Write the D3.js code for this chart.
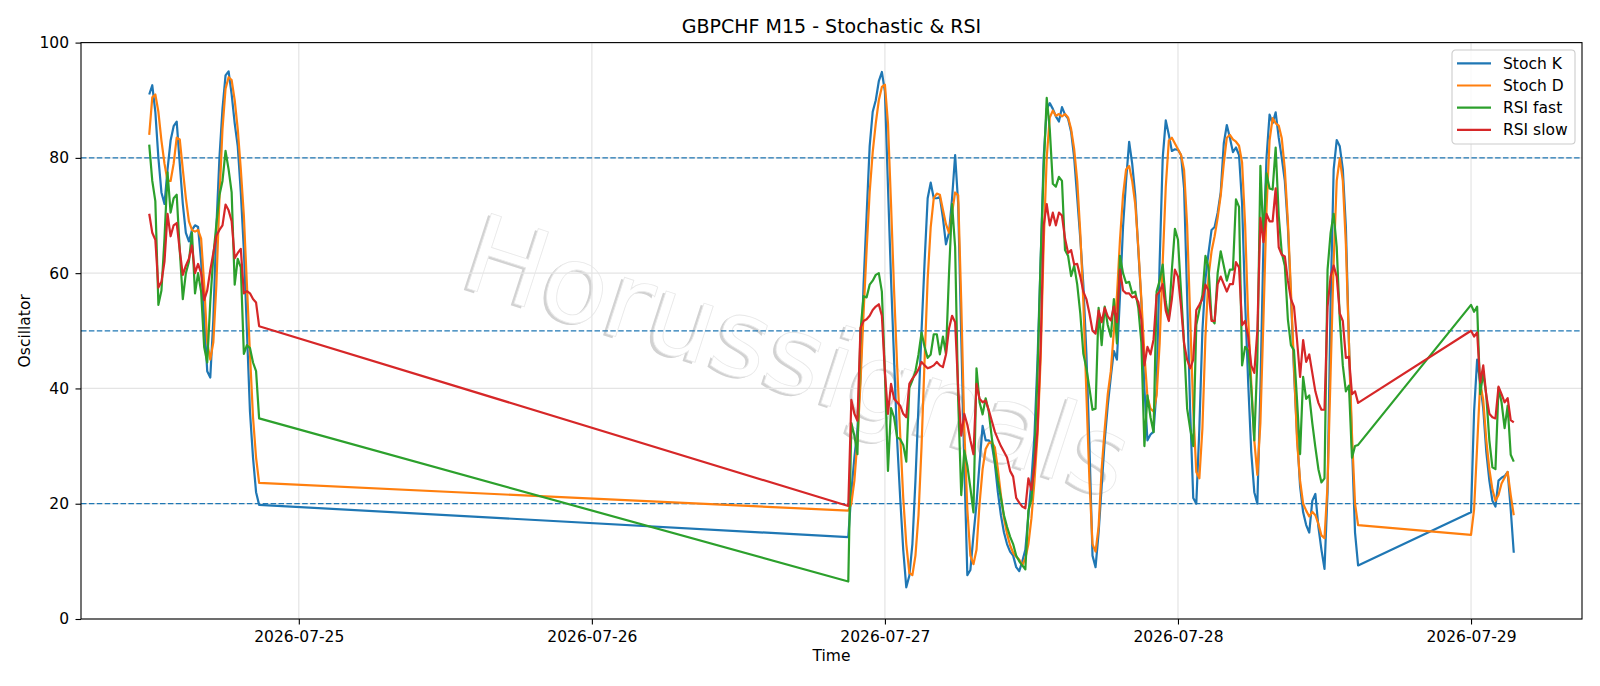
<!DOCTYPE html>
<html>
<head>
<meta charset="utf-8">
<script src="https://cdn.jsdelivr.net/npm/d3@7"></script>
<style>
    body { margin: 0; background: #fff; }
    text { font-family: "DejaVu Sans", sans-serif; fill: #000; }
</style>
</head>
<body>
<svg id="chart" width="1600" height="686"></svg>
<script>
// trading blocks (M15 bars, first and last bar of each block)
var sessions = [
    ["2026-07-24T11:45", "2026-07-24T20:45"],
    ["2026-07-26T21:00", "2026-07-28T14:45"],
    ["2026-07-29T00:00", "2026-07-29T03:30"]
];

var stochK = [
    // 07-24
    91.0, 92.6, 88, 80, 74, 72, 78, 83, 85.5, 86.3, 79, 72, 67, 65.5, 67.5, 68.3, 68, 62, 52, 43,
    41.9, 52, 68, 80, 88.5, 94.3, 95.0, 91, 86, 82, 74, 64, 50, 36, 28, 22, 19.8,
    // 07-26 .. 07-28
    14.2, 22, 28, 33, 42, 58, 70, 82, 88, 90, 93.3, 94.9, 91.5, 75, 59, 45, 31, 21, 12, 5.5,
    7.5, 13, 24, 37, 50, 62, 73, 75.7, 73, 73, 73.2,
    69.6, 65, 67, 73, 80.5, 72, 49, 27, 7.6, 8.5, 14.5, 20, 27, 33.5, 31, 31, 30.4, 27, 22, 18,
    15, 13, 11.7, 11, 9, 8.3, 10, 12, 18, 24, 32, 45, 62, 80, 88.5, 89.5,
    88.5, 87.2, 86.3, 88.8, 87.5, 86.8, 84.5, 80, 73, 66, 58, 46, 30, 11, 9, 15, 23, 31, 37, 42,
    46.5, 45, 56, 68, 76, 82.8, 79, 73.5, 64, 55,
    40, 31, 32, 32.5, 40, 62, 80, 86.5, 84, 81.2, 81.5, 81.4, 80.5, 74.7, 56, 36, 21, 20, 33, 50,
    59, 63.5, 67.5, 68, 70.5, 74, 82.5, 85.7, 83.5, 81, 81.8, 80.5,
    72, 55, 41, 29, 22, 20, 40, 65, 80, 87.5, 86, 87.9, 83.5, 80, 76, 68, 56, 43, 32, 23,
    18.5, 16.3, 15, 20.5, 21.7, 16, 12, 8.7, 22, 55, 78, 83.1, 82, 78, 68, 48, 30, 15, 9.3,
    // 07-29
    18.5, 36, 45, 41, 36.5, 29, 24, 20.5, 19.5, 24, 24.5, 24.8, 25.5, 19, 11.5
];

var stochD = [
    84, 90.5, 91, 88, 83, 79, 76, 76, 79, 83.5, 83.2, 78, 73, 69, 67.5, 67.2, 67.5, 66, 58, 48,
    45, 48, 58, 73, 85, 92, 94, 93.5, 90, 85, 78, 70, 58, 46, 35, 28, 23.6,

    18.8, 20, 24, 31, 41, 53, 64, 74, 81, 86, 90, 92.3, 92.7, 86, 72, 57, 44, 32, 21, 13,
    8, 7.6, 11, 18, 30, 45, 59, 68, 73, 73.8, 73.6,
    71, 68.5, 67, 70.5, 74, 73.5, 55, 33, 19, 11, 9.5, 12, 20, 26, 29.5, 30.5, 30.7, 29.8, 26, 21.5,
    17.5, 14.8, 12.8, 11.5, 10.8, 10.3, 9.3, 10.5, 13, 17.5, 24, 32, 45, 65, 80, 87,
    88.2, 87.3, 87.6, 87.2, 87.6, 87, 85, 81.5, 76, 67, 55, 39, 24, 13, 11.7, 16, 26, 33, 39, 43,
    50, 56, 65.8, 73.5, 78, 78.6, 76, 72, 64.5, 55.5,
    46, 38.5, 36.5, 36, 38.8, 47.8, 61.9, 75, 83, 83.5, 82.5, 81.5, 80.5, 77.9, 68.3, 52.3, 36.3, 25.5, 24.4, 33,
    49, 59.4, 63.8, 66.4, 69.6, 73.5, 79, 83.5, 84, 83.2, 82.8, 82.1,
    79.2, 68.3, 52.3, 41, 31, 25, 34, 52, 71, 83, 86.9, 86, 85.6, 83.4, 78, 69, 57, 44, 31, 24,
    20, 18.8, 17.8, 18.6, 18, 16.5, 14.5, 14, 23.3, 42.7, 61.9, 76, 79.9, 76, 65, 48, 32, 20, 16.3,

    14.6, 19, 30, 41, 38, 31, 26, 22.5, 20.5, 21.5, 23.5, 24.5, 25.5, 21.5, 18
];

var rsiFast = [
    82.3, 76, 72.5, 54.5, 57, 66, 77.5, 70.5, 73, 73.6, 64, 55.5, 60, 62, 67, 56.5, 60, 56.8, 47.2, 44.5,
    55, 63, 68.5, 73.5, 76, 81.2, 78, 74, 58, 62.5, 61, 46, 47.5, 47, 44.5, 43, 34.8,

    6.5, 34, 31.8, 28.6, 50, 56, 55.8, 58, 58.7, 59.7, 60, 56.8, 42.7, 25.7, 36.6, 35, 31.5, 31.2, 30.2, 27.3,
    40.1, 41.4, 43, 45.9, 49.7, 47.2, 45.3, 45.9, 49.4, 49.4, 45.9,
    49, 46, 60, 72, 64.5, 38, 21.5, 29.2, 26.6, 22.7, 18.5, 43.5, 37.6, 35.5, 38.3, 36, 31.5, 27.5, 24, 21,
    18, 16, 14.3, 13, 11, 10, 9.3, 8.6, 18.8, 20.8, 27.9, 42.7, 62, 78, 90.4, 85,
    75.5, 75, 76.7, 76, 64, 63, 59.5, 61.3, 58, 53, 46, 43.5, 40, 36.3, 36.5, 54, 47.5, 54.2, 51, 49,
    55.5, 47.8, 63, 60, 58.3, 58.5, 56.5, 56.8, 54, 48,
    30, 38.8, 35, 32.4, 56.8, 58.7, 61.5, 55, 52, 60.6, 67.7, 65.8, 56.8, 47.8, 36.5, 33, 30, 51, 53.6, 56.2,
    63, 61, 52, 51.3, 60, 63.8, 61.3, 58.7, 60.6, 60.6, 72.8, 71.5,
    44, 47.2, 46.6, 40, 31, 45, 78.6, 65.8, 77.3, 74.7, 74.5, 81.8, 70, 63.5, 61.3, 52, 47.5, 46.6, 38, 28.6,
    42, 38.2, 38.8, 34, 29.8, 26, 23.7, 24.4, 60.6, 67, 70.3, 64.5, 52, 44, 39.5, 40.5, 28, 30, 30.2,

    54.5, 53.3, 54.2, 39, 42.7, 38.8, 31, 26.3, 26, 40.1, 37.6, 33.1, 37, 28.5, 27.3
];

var rsiSlow = [
    70.3, 67, 65.8, 57.5, 58.5, 62, 70.3, 66.4, 68.3, 68.7, 64, 59.7, 61.3, 62.5, 64.8, 60, 61.6, 60, 55.3, 57,
    60.5, 63.5, 66.5, 67.5, 68.3, 71.9, 70.9, 69, 62.6, 63.5, 64.2, 56.5, 56.9, 56.5, 55.5, 54.9, 50.8,

    19.6, 38, 35.6, 34.4, 50.5, 51.7, 52, 52.6, 53.6, 54.2, 54.6, 52.6, 42.7, 35.6, 40.8, 38.2, 37.6, 37, 35.6, 35,
    40.8, 41.7, 42.4, 43.3, 44.6, 44, 43.5, 43.7, 44, 44.6, 44,
    43.7, 45.9, 50.4, 52.6, 51.5, 40, 31.8, 35.6, 33.7, 31, 28.6, 40.8, 38.2, 37.6, 37.9, 36.3, 34.4, 32.5, 31.2, 30,
    29, 28, 25.7, 24.7, 21, 20.2, 19.5, 19.2, 24.4, 22.4, 26.6, 33, 47, 68.3, 72, 68.3,
    70.5, 68.3, 70.5, 70, 66, 63.5, 64, 61.5, 61.6, 59.4, 56.8, 55.5, 53, 50, 49.5, 53.5, 51.5, 54, 52.5, 51.8,
    54.2, 51.5, 60.6, 57, 56.5, 56.5, 55.8, 56, 55, 52,
    44, 47.2, 45.9, 48.5, 56.2, 56.8, 58.1, 53.5, 51.7, 55.5, 60.6, 59.4, 54.2, 47.8, 45, 43.5, 45, 53.6, 54.5, 55.5,
    58, 57, 51.7, 51.7, 58.1, 59.4, 58.1, 56.8, 58.1, 58.1, 61.9, 61,
    51, 51.7, 49, 44, 42.7, 50, 69.6, 65.4, 70.3, 69, 69, 74.7, 64.5, 63.2, 62.9, 58.7, 55.5, 54.2, 48.4, 42,
    48.4, 44.6, 45.9, 42.7, 39.5, 37.5, 36.3, 36.3, 54.2, 59.4, 61.3, 59.4, 53, 51.7, 45.3, 45.5, 39, 39.5, 37.5,

    50, 49, 49.7, 41, 44, 38.8, 35.6, 35, 34.8, 40.3, 39, 37.6, 38.3, 34.5, 34.1
];

var seriesNames = ["Stoch K", "Stoch D", "RSI fast", "RSI slow"];
var seriesColors = ["#1f77b4", "#ff7f0e", "#2ca02c", "#d62728"];
var levels = [80, 50, 20];
var yTicks = [0, 20, 40, 60, 80, 100];
var xTickLabels = ["2026-07-25", "2026-07-26", "2026-07-27", "2026-07-28", "2026-07-29"];

var margin = { left: 81, right: 1582, top: 42.6, bottom: 619 };
var svg = d3.select("#chart");

var parseTime = d3.utcParse("%Y-%m-%dT%H:%M");
var parseDay = d3.utcParse("%Y-%m-%d");

var times = [];
sessions.forEach(function (s) {
    var end = parseTime(s[1]);
    times = times.concat(d3.utcMinute.every(15).range(parseTime(s[0]), d3.utcMinute.offset(end, 1)));
});

var allSeries = [stochK, stochD, rsiFast, rsiSlow].map(function (vals, i) {
    return {
        name: seriesNames[i],
        color: seriesColors[i],
        points: vals.map(function (v, k) { return { t: times[k], v: v }; })
    };
});

// matplotlib style 5% margins on x
var t0 = +times[0], t1 = +times[times.length - 1];
var pad = (t1 - t0) * 0.05;
var x = d3.scaleUtc()
    .domain([new Date(t0 - pad), new Date(t1 + pad)])
    .range([margin.left, margin.right]);
var y = d3.scaleLinear()
    .domain([0, 100])
    .range([margin.bottom, margin.top]);

// watermark
var wm = svg.append("g")
    .attr("transform", "translate(786,392) rotate(18)");
wm.append("text")
    .attr("x", -2.5).attr("y", 2.5)
    .attr("text-anchor", "middle")
    .style("font-size", "108px")
    .style("fill", "#d2d2d2")
    .text("Horussignals");
wm.append("text")
    .attr("text-anchor", "middle")
    .style("font-size", "108px")
    .style("fill", "#ffffff")
    .style("stroke", "#e8e8e8")
    .style("stroke-width", 0.8)
    .text("Horussignals");

// grid
var grid = svg.append("g").attr("class", "grid");
grid.selectAll("line.gy")
    .data(yTicks)
    .enter().append("line")
    .attr("x1", margin.left).attr("x2", margin.right)
    .attr("y1", function (d) { return y(d); })
    .attr("y2", function (d) { return y(d); })
    .style("stroke", "#e4e4e4")
    .style("stroke-width", 1.2);
grid.selectAll("line.gx")
    .data(xTickLabels)
    .enter().append("line")
    .attr("x1", function (d) { return x(parseDay(d)); })
    .attr("x2", function (d) { return x(parseDay(d)); })
    .attr("y1", margin.top).attr("y2", margin.bottom)
    .style("stroke", "#e4e4e4")
    .style("stroke-width", 1.2);

// overbought / mid / oversold levels
svg.append("g").selectAll("line")
    .data(levels)
    .enter().append("line")
    .attr("x1", margin.left).attr("x2", margin.right)
    .attr("y1", function (d) { return y(d); })
    .attr("y2", function (d) { return y(d); })
    .style("stroke", "#1f77b4")
    .style("stroke-width", 1.3)
    .style("stroke-dasharray", "5.5,2.4");

// series
var line = d3.line()
    .x(function (d) { return x(d.t); })
    .y(function (d) { return y(d.v); });

svg.append("g").selectAll("path")
    .data(allSeries)
    .enter().append("path")
    .attr("d", function (d) { return line(d.points); })
    .style("fill", "none")
    .style("stroke", function (d) { return d.color; })
    .style("stroke-width", 2.2)
    .style("stroke-linejoin", "round");

// axes
var xAxis = svg.append("g")
    .attr("transform", "translate(0," + margin.bottom + ")")
    .call(d3.axisBottom(x)
        .tickValues(xTickLabels.map(parseDay))
        .tickFormat(d3.utcFormat("%Y-%m-%d"))
        .tickSize(5.5)
        .tickPadding(6.2));
var yAxis = svg.append("g")
    .attr("transform", "translate(" + margin.left + ",0)")
    .call(d3.axisLeft(y)
        .tickValues(yTicks)
        .tickSize(5.5)
        .tickPadding(6.5));
[xAxis, yAxis].forEach(function (a) {
    a.select(".domain").remove();
    a.selectAll(".tick line").style("stroke", "#000").style("stroke-width", 1.1);
    a.selectAll(".tick text")
        .style("font-size", "15.5px")
        .style("font-family", "'DejaVu Sans', sans-serif")
        .style("fill", "#000");
});

svg.append("rect")
    .attr("x", margin.left).attr("y", margin.top)
    .attr("width", margin.right - margin.left)
    .attr("height", margin.bottom - margin.top)
    .style("fill", "none")
    .style("stroke", "#000")
    .style("stroke-width", 1.1);

// labels
svg.append("text")
    .attr("x", (margin.left + margin.right) / 2).attr("y", 33)
    .attr("text-anchor", "middle")
    .style("font-size", "19px")
    .text("GBPCHF M15 - Stochastic & RSI");
svg.append("text")
    .attr("x", (margin.left + margin.right) / 2).attr("y", 661)
    .attr("text-anchor", "middle")
    .style("font-size", "15.5px")
    .text("Time");
svg.append("text")
    .attr("transform", "translate(30," + (margin.top + margin.bottom) / 2 + ") rotate(-90)")
    .attr("text-anchor", "middle")
    .style("font-size", "15.5px")
    .text("Oscillator");

// legend
var legend = svg.append("g").attr("transform", "translate(1452,50)");
legend.append("rect")
    .attr("width", 123).attr("height", 94)
    .attr("rx", 3.5)
    .style("fill", "#fff")
    .style("fill-opacity", 0.8)
    .style("stroke", "#cccccc")
    .style("stroke-width", 1.1);
var item = legend.selectAll("g.item")
    .data(allSeries)
    .enter().append("g")
    .attr("transform", function (d, i) { return "translate(0," + (13.3 + i * 22.2) + ")"; });
item.append("line")
    .attr("x1", 5).attr("x2", 39)
    .style("stroke", function (d) { return d.color; })
    .style("stroke-width", 2.2);
item.append("text")
    .attr("x", 51).attr("dy", "0.35em")
    .style("font-size", "15.5px")
    .text(function (d) { return d.name; });
</script>
</body>
</html>
